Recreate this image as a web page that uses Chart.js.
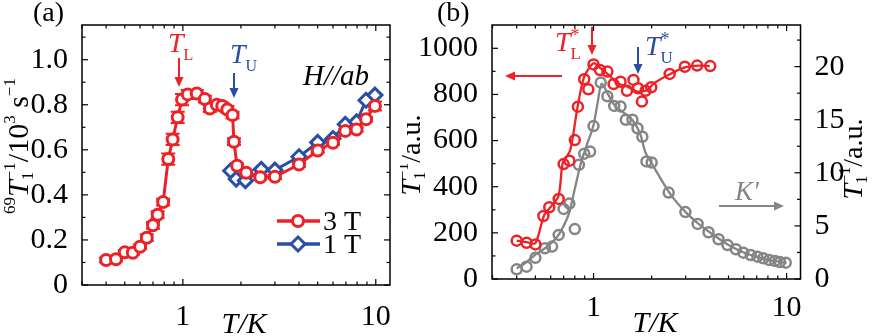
<!DOCTYPE html>
<html>
<head>
<meta charset="utf-8">
<script src="https://cdn.jsdelivr.net/npm/chart.js@4.4.0/dist/chart.umd.min.js"></script>
<style>
  body { margin: 0; background: #fff; }
  #wrap { position: relative; width: 876px; height: 336px; }
  canvas { position: absolute; top: 0; }
  #chartA { left: 0; }
  #chartB { left: 400px; }
</style>
</head>
<body>
<div id="wrap">
  <canvas id="chartA" width="400" height="336"></canvas>
  <canvas id="chartB" width="476" height="336"></canvas>
</div>
<script>
// panel (a): 69Ga 1/T1 for H//ab, two fields
const tempA3 = [0.40, 0.45, 0.50, 0.55, 0.60, 0.65, 0.70, 0.74, 0.79, 0.84, 0.885, 0.94, 0.99, 1.06, 1.18, 1.30, 1.38, 1.50, 1.60, 1.70, 1.81, 1.84, 1.91, 2.13, 2.52, 3.0, 4.0, 5.0, 6.0, 6.95, 7.95, 8.9, 9.9];
const rateA3 = [0.111, 0.114, 0.145, 0.143, 0.170, 0.210, 0.265, 0.312, 0.368, 0.559, 0.646, 0.744, 0.823, 0.846, 0.850, 0.825, 0.783, 0.800, 0.795, 0.779, 0.754, 0.636, 0.529, 0.498, 0.478, 0.480, 0.535, 0.597, 0.631, 0.684, 0.690, 0.736, 0.795];
const errA3 = [0.01, 0.01, 0.01, 0.01, 0.01, 0.015, 0.015, 0.015, 0.015, 0.025, 0.025, 0.025, 0.025, 0.02, 0.015, 0.015, 0.015, 0.015, 0.015, 0.015, 0.015, 0.015, 0.01, 0.01, 0.01, 0.01, 0.01, 0.01, 0.01, 0.01, 0.01, 0.01, 0.02];
const tempA1 = [1.77, 1.89, 2.11, 2.55, 3.0, 4.0, 5.0, 6.0, 6.95, 7.95, 8.9, 9.9];
const rateA1 = [0.507, 0.470, 0.463, 0.513, 0.510, 0.569, 0.633, 0.650, 0.713, 0.724, 0.820, 0.843];

// panel (b): 1/T1 (left axis) and K' (right axis)
const tempB = [0.40, 0.45, 0.50, 0.55, 0.59, 0.66, 0.70, 0.75, 0.80, 0.83, 0.895, 0.94, 1.0, 1.08, 1.18, 1.27, 1.38, 1.49, 1.61, 1.70, 1.78, 1.86, 1.99, 2.48, 2.97, 3.44, 4.02];
const rateB = [166, 157, 150, 273, 311, 347, 498, 513, 602, 747, 866, 822, 930, 906, 899, 845, 855, 816, 863, 827, 769, 816, 831, 889, 920, 925, 923];
const fitBT = [0.40, 0.45, 0.50, 0.556, 0.657, 0.692, 0.758, 0.827, 0.895, 1.0, 1.09, 1.20, 1.33, 1.50, 1.69, 1.90, 2.05, 2.5, 3.0, 3.5, 4.0];
const fitBRate = [166, 160, 155, 277, 357, 501, 559, 747, 877, 935, 913, 884, 848, 834, 812, 819, 848, 889, 918, 925, 923];

const tempK = [0.40, 0.45, 0.50, 0.56, 0.61, 0.66, 0.70, 0.75, 0.80, 0.84, 0.895, 0.96, 1.0, 1.09, 1.18, 1.28, 1.38, 1.47, 1.59, 1.69, 1.79, 1.88, 2.0, 2.45, 2.99, 3.46, 3.94, 4.44, 4.94, 5.46, 5.97, 6.52, 7.06, 7.57, 8.13, 8.7, 9.23, 9.9];
const kPrime = [0.91, 1.16, 2.0, 2.9, 3.05, 4.15, 6.6, 7.1, 4.7, 10.75, 11.8, 12.0, 14.4, 18.5, 17.2, 16.3, 16.25, 15.0, 15.0, 14.2, 13.4, 11.07, 10.97, 8.14, 6.3, 5.19, 4.4, 3.74, 3.2, 2.8, 2.48, 2.26, 2.1, 1.95, 1.79, 1.7, 1.6, 1.54];
const fitKT = [0.40, 0.45, 0.50, 0.57, 0.65, 0.70, 0.75, 0.80, 0.86, 0.93, 1.0, 1.05, 1.1, 1.18, 1.28, 1.4, 1.6, 1.75, 1.85, 2.0, 2.5, 3.0, 3.5, 4.0, 5.0, 6.0, 7.0, 8.0, 9.0, 10.0];
const fitK = [1.0, 1.6, 2.3, 3.0, 4.0, 5.0, 6.3, 8.5, 10.9, 12.8, 14.5, 16.6, 18.4, 17.5, 16.4, 15.8, 14.9, 13.6, 12.0, 10.9, 8.0, 6.3, 5.2, 4.4, 3.2, 2.5, 2.1, 1.8, 1.65, 1.5];

// tick labels
const xTicks = [1, 10];
const yTicksA = [0, 0.2, 0.4, 0.6, 0.8, 1.0];
const yTicksB = [0, 200, 400, 600, 800, 1000];
const yTicksK = [0, 5, 10, 15, 20];

const RED = '#ec2227';
const BLUE = '#2a4ea3';
const GRAY = '#858585';
const SERIF = '"Liberation Serif", "Times New Roman", serif';
const font = (s, it) => (it ? 'italic ' : '') + s + 'px ' + SERIF;
const xy = (xs, ys) => xs.map((x, i) => ({ x: x, y: ys[i] }));
const setTicks = vals => s => { s.ticks = vals.map(v => ({ value: v })); };

// text with sub/superscripts; parts flagged "over" share the x of the previous part
function richText(ctx, x, y, parts, align) {
  let w = 0, start = 0, prevW = 0;
  const pos = [];
  parts.forEach(p => {
    ctx.font = font(p.s, p.i);
    const pw = ctx.measureText(p.t).width;
    if (p.over) {
      pos.push(start);
      prevW = Math.max(prevW, pw);
      w = start + prevW;
    } else {
      pos.push(w);
      start = w;
      prevW = pw;
      w += pw;
    }
  });
  const x0 = align === 'center' ? x - w / 2 : x;
  ctx.textAlign = 'left';
  ctx.textBaseline = 'alphabetic';
  parts.forEach((p, k) => {
    ctx.font = font(p.s, p.i);
    ctx.fillText(p.t, x0 + pos[k], y + (p.dy || 0));
  });
}

function arrow(ctx, x1, y1, x2, y2, color, lw) {
  const a = Math.atan2(y2 - y1, x2 - x1);
  const hl = 10, hw = 4.5;
  ctx.save();
  ctx.strokeStyle = color;
  ctx.fillStyle = color;
  ctx.lineWidth = lw;
  ctx.beginPath();
  ctx.moveTo(x1, y1);
  ctx.lineTo(x2 - hl * Math.cos(a), y2 - hl * Math.sin(a));
  ctx.stroke();
  ctx.translate(x2, y2);
  ctx.rotate(a);
  ctx.beginPath();
  ctx.moveTo(0, 0);
  ctx.lineTo(-hl, -hw);
  ctx.lineTo(-hl, hw);
  ctx.closePath();
  ctx.fill();
  ctx.restore();
}

// box frame with inward major/minor ticks on all four sides
const frameTicks = {
  id: 'frame',
  afterDatasetsDraw(chart, args, opts) {
    const { ctx, chartArea: a, scales } = chart;
    ctx.save();
    ctx.strokeStyle = '#000';
    ctx.lineWidth = 1.5;
    ctx.strokeRect(a.left, a.top, a.right - a.left, a.bottom - a.top);
    ctx.lineWidth = 1.2;
    const seg = (x1, y1, x2, y2) => { ctx.beginPath(); ctx.moveTo(x1, y1); ctx.lineTo(x2, y2); ctx.stroke(); };
    const xs = scales.x;
    for (let e = -1; e <= 1; e++) {
      for (let n = 1; n <= 9; n++) {
        const v = n * Math.pow(10, e);
        if (v < xs.min || v > xs.max) continue;
        const px = xs.getPixelForValue(v);
        const len = n === 1 ? 6 : 3.5;
        seg(px, a.bottom, px, a.bottom - len);
        seg(px, a.top, px, a.top + len);
      }
    }
    [['left', 1], ['right', -1]].forEach(([side, dir]) => {
      const o = opts[side];
      const s = scales[o.axis];
      const x0 = side === 'left' ? a.left : a.right;
      for (let k = 0; k * o.step / 2 <= s.max; k++) {
        const py = s.getPixelForValue(k * o.step / 2);
        if (py < a.top + 1) continue;
        const len = k % 2 === 0 ? 6 : 3.5;
        seg(x0, py, x0 + dir * len, py);
      }
    });
    ctx.restore();
  }
};

// vertical error bars with caps, drawn under the markers
const errorBars = {
  id: 'errorBars',
  beforeDatasetsDraw(chart) {
    const { ctx, scales } = chart;
    ctx.save();
    ctx.strokeStyle = RED;
    ctx.lineWidth = 2;
    tempA3.forEach((t, i) => {
      const px = scales.x.getPixelForValue(t);
      const hi = scales.y.getPixelForValue(rateA3[i] + errA3[i]);
      const lo = scales.y.getPixelForValue(rateA3[i] - errA3[i]);
      ctx.beginPath();
      ctx.moveTo(px, hi); ctx.lineTo(px, lo);
      ctx.moveTo(px - 7, hi); ctx.lineTo(px + 7, hi);
      ctx.moveTo(px - 7, lo); ctx.lineTo(px + 7, lo);
      ctx.stroke();
    });
    ctx.restore();
  }
};

const labelsA = {
  id: 'labelsA',
  afterDraw(chart) {
    const ctx = chart.ctx;
    ctx.save();
    ctx.fillStyle = '#000';
    richText(ctx, 33, 21, [{ t: '(a)', s: 28 }]);
    ctx.fillStyle = RED;
    richText(ctx, 168, 52, [{ t: 'T', s: 28, i: true }, { t: 'L', s: 16, dy: 8 }]);
    arrow(ctx, 179, 58, 179, 87, RED, 2);
    ctx.fillStyle = BLUE;
    richText(ctx, 230, 63, [{ t: 'T', s: 28, i: true }, { t: 'U', s: 16, dy: 8 }]);
    arrow(ctx, 234, 73, 234, 98, BLUE, 2);
    ctx.fillStyle = '#000';
    richText(ctx, 303, 85, [{ t: 'H//ab', s: 29, i: true }]);

    // legend
    const rows = [[RED, '3 T', 221, 'circle'], [BLUE, '1 T', 244, 'rectRot']];
    rows.forEach(([c, txt, y, st]) => {
      ctx.strokeStyle = c;
      ctx.lineWidth = 3.5;
      ctx.beginPath(); ctx.moveTo(277, y); ctx.lineTo(320, y); ctx.stroke();
      ctx.fillStyle = '#fff';
      ctx.lineWidth = 3;
      ctx.beginPath();
      if (st === 'circle') {
        ctx.arc(298, y, 5.5, 0, Math.PI * 2);
      } else {
        ctx.moveTo(298, y - 7); ctx.lineTo(305, y); ctx.lineTo(298, y + 7); ctx.lineTo(291, y); ctx.closePath();
      }
      ctx.fill(); ctx.stroke();
      ctx.fillStyle = '#000';
      richText(ctx, 323, y + 8.5, [{ t: txt, s: 28 }]);
    });

    // axis titles
    richText(ctx, 244, 333, [{ t: 'T/K', s: 30, i: true }], 'center');
    ctx.translate(28, 146);
    ctx.rotate(-Math.PI / 2);
    richText(ctx, 0, 0, [
      { t: '69', s: 17, dy: -13 }, { t: 'T', s: 30, i: true },
      { t: '1', s: 17, dy: 5 }, { t: '\u22121', s: 17, dy: -13, over: true },
      { t: '/10', s: 30 }, { t: '3', s: 17, dy: -13 }, { t: ' s', s: 30 }, { t: '\u22121', s: 17, dy: -13 }
    ], 'center');
    ctx.restore();
  }
};

const labelsB = {
  id: 'labelsB',
  afterDraw(chart) {
    const ctx = chart.ctx;
    const ox = 400;
    ctx.save();
    ctx.fillStyle = '#000';
    richText(ctx, 437 - ox, 21, [{ t: '(b)', s: 28 }]);
    ctx.fillStyle = RED;
    richText(ctx, 555 - ox, 51, [{ t: 'T', s: 28, i: true }, { t: 'L', s: 17, dy: 8 }, { t: '*', s: 18, dy: -10, over: true }]);
    arrow(ctx, 592 - ox, 27, 592 - ox, 55, RED, 2);
    arrow(ctx, 562 - ox, 76, 505 - ox, 76, RED, 2);
    ctx.fillStyle = BLUE;
    richText(ctx, 645 - ox, 55, [{ t: 'T', s: 28, i: true }, { t: 'U', s: 17, dy: 8 }, { t: '*', s: 18, dy: -10, over: true }]);
    arrow(ctx, 638 - ox, 47, 638 - ox, 74, BLUE, 2);
    ctx.fillStyle = GRAY;
    richText(ctx, 735 - ox, 200, [{ t: 'K\u2032', s: 27, i: true }]);
    arrow(ctx, 719 - ox, 206, 784 - ox, 206, GRAY, 2);

    ctx.fillStyle = '#000';
    richText(ctx, 655 - ox, 332, [{ t: 'T/K', s: 30, i: true }], 'center');
    const title = [
      { t: 'T', s: 28, i: true }, { t: '1', s: 16, dy: 5 },
      { t: '\u22121', s: 16, dy: -12, over: true }, { t: '/a.u.', s: 28 }
    ];
    ctx.save();
    ctx.translate(420 - ox, 155);
    ctx.rotate(-Math.PI / 2);
    richText(ctx, 0, 0, title, 'center');
    ctx.restore();
    ctx.translate(862 - ox, 159);
    ctx.rotate(-Math.PI / 2);
    richText(ctx, 0, 0, title, 'center');
    ctx.restore();
  }
};

const tickFont = { family: SERIF, size: 30 };
const baseX = (min, max, h, pad) => ({
  type: 'logarithmic', min: min, max: max,
  grid: { display: false }, border: { display: false },
  ticks: { font: tickFont, color: '#000', padding: pad, maxRotation: 0, callback: v => String(v) },
  afterBuildTicks: setTicks(xTicks),
  afterFit: s => { s.height = h; }
});
const baseY = (max, vals, w, pos, fmt) => ({
  type: 'linear', position: pos, min: 0, max: max,
  grid: { display: false }, border: { display: false },
  ticks: { font: tickFont, color: '#000', padding: 6, callback: fmt },
  afterBuildTicks: setTicks(vals),
  afterFit: s => { s.width = w; }
});

new Chart(document.getElementById('chartA'), {
  type: 'scatter',
  data: {
    datasets: [
      {
        label: '3 T', data: xy(tempA3, rateA3), showLine: true, tension: 0,
        borderColor: RED, borderWidth: 3,
        pointStyle: 'circle', pointRadius: 5.5, pointBorderWidth: 3,
        pointBorderColor: RED, pointBackgroundColor: '#fff'
      },
      {
        label: '1 T', data: xy(tempA1, rateA1), showLine: true, tension: 0,
        borderColor: BLUE, borderWidth: 3,
        pointStyle: 'rectRot', pointRadius: 7, pointBorderWidth: 3,
        pointBorderColor: BLUE, pointBackgroundColor: '#fff'
      }
    ]
  },
  options: {
    responsive: false, animation: false,
    layout: { padding: { top: 25, right: 9, left: 0, bottom: 0 } },
    plugins: {
      legend: { display: false }, tooltip: { enabled: false },
      frame: { left: { axis: 'y', step: 0.2 }, right: { axis: 'y', step: 0.2 } }
    },
    scales: {
      x: baseX(0.303, 11.85, 51, 6),
      y: baseY(1.154, yTicksA, 82, 'left', v => (v === 0 ? '0' : v.toFixed(1)))
    }
  },
  plugins: [errorBars, frameTicks, labelsA]
});

new Chart(document.getElementById('chartB'), {
  type: 'scatter',
  data: {
    datasets: [
      {
        label: '1/T1', data: xy(tempB, rateB), yAxisID: 'y', showLine: false,
        pointStyle: 'circle', pointRadius: 5, pointBorderWidth: 2.5,
        pointBorderColor: RED, pointBackgroundColor: 'rgba(255,255,255,0)'
      },
      {
        label: '1/T1 guide', data: xy(fitBT, fitBRate), yAxisID: 'y', showLine: true,
        tension: 0.25, borderColor: RED, borderWidth: 2.3, pointRadius: 0
      },
      {
        label: "K'", data: xy(tempK, kPrime), yAxisID: 'y2', showLine: false,
        pointStyle: 'circle', pointRadius: 5, pointBorderWidth: 2.5,
        pointBorderColor: GRAY, pointBackgroundColor: 'rgba(255,255,255,0)'
      },
      {
        label: "K' guide", data: xy(fitKT, fitK), yAxisID: 'y2', showLine: true,
        cubicInterpolationMode: 'monotone', borderColor: GRAY, borderWidth: 2.3, pointRadius: 0
      }
    ]
  },
  options: {
    responsive: false, animation: false,
    layout: { padding: { top: 25, right: 0, left: 0, bottom: 0 } },
    plugins: {
      legend: { display: false }, tooltip: { enabled: false },
      frame: { left: { axis: 'y', step: 200 }, right: { axis: 'y2', step: 5 } }
    },
    scales: {
      x: baseX(0.298, 11.8, 57, 3),
      y: baseY(1101, yTicksB, 92, 'left', v => String(v)),
      y2: baseY(23.92, yTicksK, 75.5, 'right', v => String(v))
    }
  },
  plugins: [frameTicks, labelsB]
});
</script>
</body>
</html>
